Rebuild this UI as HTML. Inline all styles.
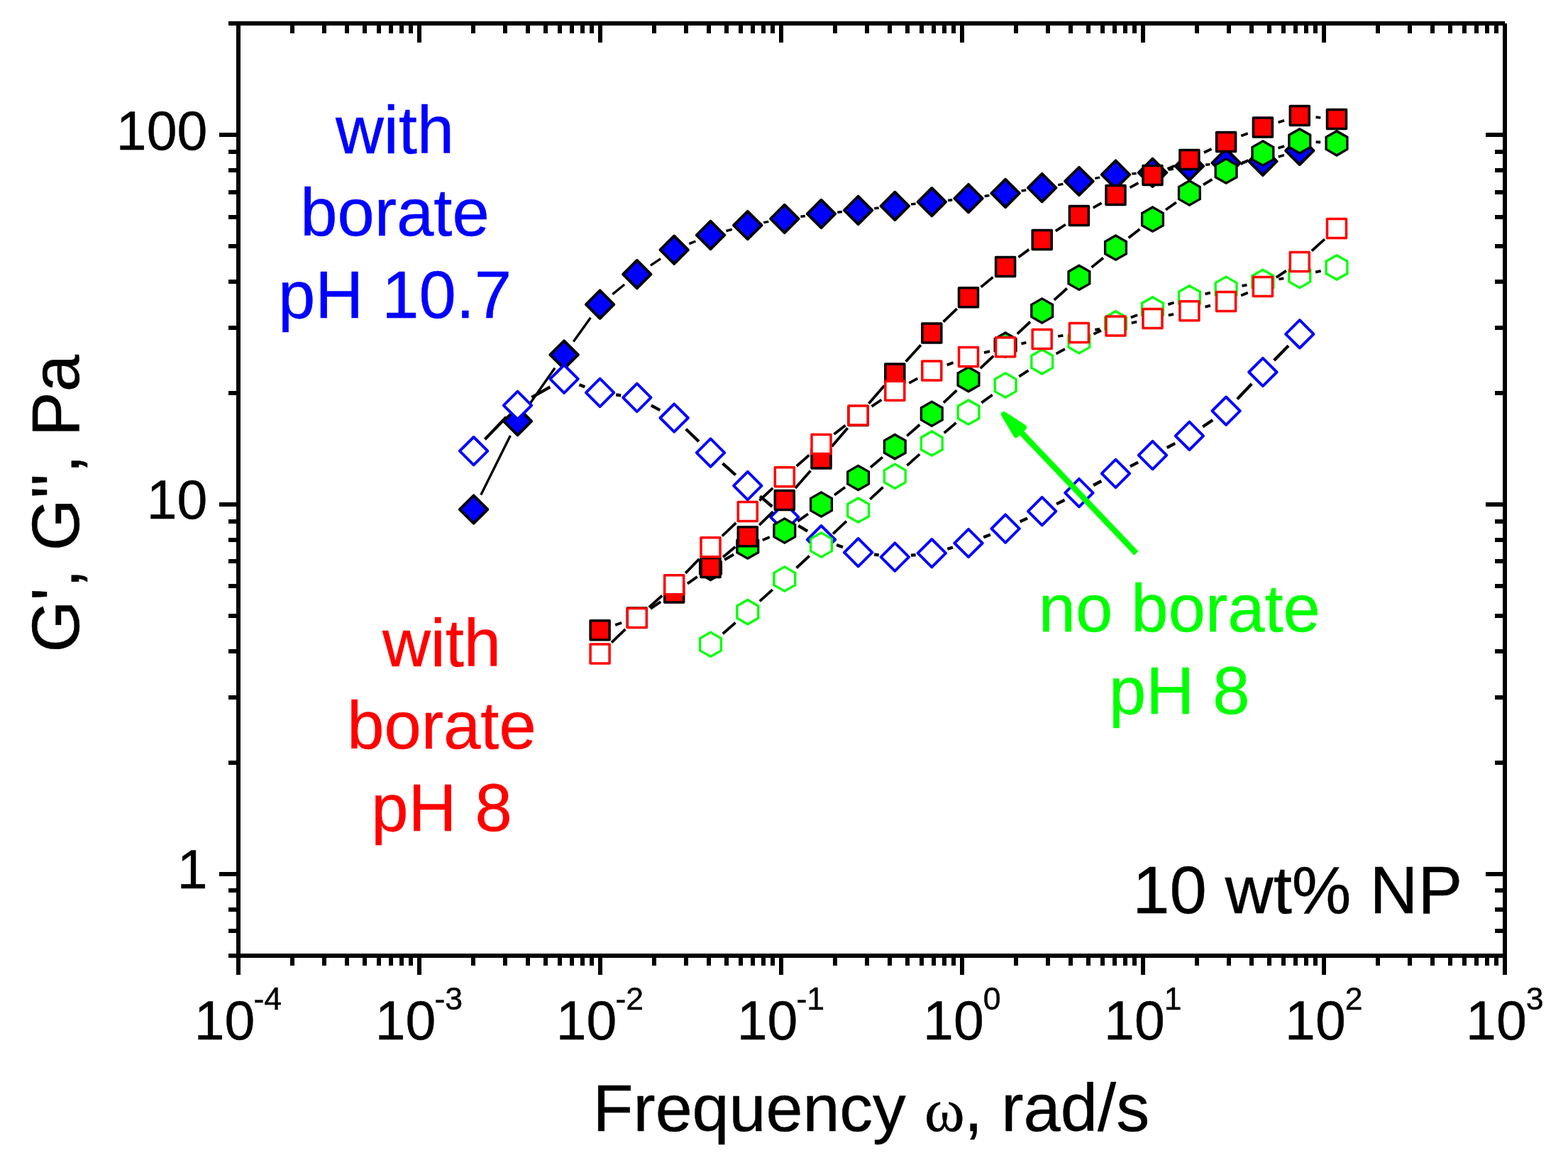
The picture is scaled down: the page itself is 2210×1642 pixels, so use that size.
<!DOCTYPE html>
<html lang="en"><head><meta charset="utf-8"><title>G', G'' vs frequency</title>
<style>html,body{margin:0;padding:0;background:#fff;}body{width:2210px;height:1642px;overflow:hidden;}svg{display:block;}text{font-family:"Liberation Sans",Arial,Helvetica,sans-serif;stroke-width:0.45px;stroke-linejoin:round;}.sym{font-family:"Liberation Serif","DejaVu Serif",serif;}</style></head><body>
<svg width="2210" height="1642" viewBox="0 0 2210 1642">
<rect x="0" y="0" width="2210" height="1642" fill="#ffffff"/>
<g id="plot">
<g id="blue-g1">
<path d="M677.8 697.6L719.3 614.1M742.6 575L782 518.7M808.3 481.4L832.4 447.7M863.3 414.7L880.1 401M916.9 374.1L931.1 364.7M971.3 343.6L980.4 340M1023.5 325.5L1031.8 323.4M1076.3 313.6L1083.3 312.3M1128.4 305.3L1134.9 304.5M1180.2 299.2L1186.9 298.5M1232.3 293.7L1238.6 293M1284 287.9L1290.6 287.2M1336 282.5L1342.3 281.8M1387.6 276.5L1394.5 275.5M1439.6 269L1446.2 268M1491.2 260.7L1498.4 259.4M1543.3 251.4L1550.1 250.2M1595.3 244.9L1601.7 244.5M1647 239.4L1653.9 238.1M1699.1 232.2L1705.4 231.6M1750.9 228.6L1757.1 228.3M1801.8 221L1809.9 218.6" fill="none" stroke="#000" stroke-width="3.4" stroke-linecap="butt"/>
<g fill="#0000ff" stroke="#000" stroke-width="3.9" stroke-linejoin="round">
<path d="M667.6 698.3L687.3 718L667.6 737.7L647.9 718Z"/>
<path d="M729.5 574L749.2 593.7L729.5 613.4L709.8 593.7Z"/>
<path d="M795.1 480.3L814.8 500L795.1 519.7L775.4 500Z"/>
<path d="M845.6 409.4L865.3 429.1L845.6 448.8L825.9 429.1Z"/>
<path d="M897.8 366.9L917.5 386.6L897.8 406.3L878.1 386.6Z"/>
<path d="M950.2 332.5L969.9 352.2L950.2 371.9L930.5 352.2Z"/>
<path d="M1001.5 311.7L1021.2 331.4L1001.5 351.1L981.8 331.4Z"/>
<path d="M1053.8 297.8L1073.5 317.5L1053.8 337.2L1034.1 317.5Z"/>
<path d="M1105.8 288.7L1125.5 308.4L1105.8 328.1L1086.1 308.4Z"/>
<path d="M1157.5 281.7L1177.2 301.4L1157.5 321.1L1137.8 301.4Z"/>
<path d="M1209.6 276.6L1229.3 296.3L1209.6 316L1189.9 296.3Z"/>
<path d="M1261.3 270.7L1281 290.4L1261.3 310.1L1241.6 290.4Z"/>
<path d="M1313.3 265L1333 284.7L1313.3 304.4L1293.6 284.7Z"/>
<path d="M1365 259.9L1384.7 279.6L1365 299.3L1345.3 279.6Z"/>
<path d="M1417.1 252.7L1436.8 272.4L1417.1 292.1L1397.4 272.4Z"/>
<path d="M1468.7 244.9L1488.4 264.6L1468.7 284.3L1449 264.6Z"/>
<path d="M1520.9 235.8L1540.6 255.5L1520.9 275.2L1501.2 255.5Z"/>
<path d="M1572.5 226.4L1592.2 246.1L1572.5 265.8L1552.8 246.1Z"/>
<path d="M1624.5 223.6L1644.2 243.3L1624.5 263L1604.8 243.3Z"/>
<path d="M1676.4 214.5L1696.1 234.2L1676.4 253.9L1656.7 234.2Z"/>
<path d="M1728.1 209.9L1747.8 229.6L1728.1 249.3L1708.4 229.6Z"/>
<path d="M1779.9 207.6L1799.6 227.3L1779.9 247L1760.2 227.3Z"/>
<path d="M1831.8 192.6L1851.5 212.3L1831.8 232L1812.1 212.3Z"/>
</g></g>
<g id="blue-g2">
<path d="M683.4 619.3L713.7 587.7M749.3 560.1L775.3 545.4M816.4 542.3L824.3 545.3M868.2 556.4L875.2 557.4M917.8 571.3L930.2 578.1M966.7 604.8L985 622.3M1018.5 653.2L1036.8 669.5M1071.2 699.4L1088.4 714M1125.2 740.8L1138.1 748.7M1179.1 768.1L1188 771.3M1232.2 781.5L1238.7 782.3M1284 782.7L1290.6 782.1M1335.3 773.7L1343 771.5M1386.2 757.2L1395.9 753.4M1437.7 735.3L1448.1 730.4M1489.1 710.4L1500.5 704.8M1541.1 684L1552.3 678M1592.9 657.3L1604.1 651.7M1644.7 631L1656.2 624.9M1695.3 601.5L1709.2 592M1743.8 562.6L1764.2 541.1M1795.7 508.1L1816 487.2" fill="none" stroke="#000" stroke-width="4.3" stroke-linecap="butt"/>
<g fill="#ffffff" stroke="#0000ff" stroke-width="3.9" stroke-linejoin="round">
<path d="M667.6 616L687.3 635.7L667.6 655.4L647.9 635.7Z"/>
<path d="M729.5 551.6L749.2 571.3L729.5 591L709.8 571.3Z"/>
<path d="M795.1 514.5L814.8 534.2L795.1 553.9L775.4 534.2Z"/>
<path d="M845.6 533.7L865.3 553.4L845.6 573.1L825.9 553.4Z"/>
<path d="M897.8 540.7L917.5 560.4L897.8 580.1L878.1 560.4Z"/>
<path d="M950.2 569.3L969.9 589L950.2 608.7L930.5 589Z"/>
<path d="M1001.5 618.4L1021.2 638.1L1001.5 657.8L981.8 638.1Z"/>
<path d="M1053.8 664.9L1073.5 684.6L1053.8 704.3L1034.1 684.6Z"/>
<path d="M1105.8 709.1L1125.5 728.8L1105.8 748.5L1086.1 728.8Z"/>
<path d="M1157.5 741L1177.2 760.7L1157.5 780.4L1137.8 760.7Z"/>
<path d="M1209.6 759L1229.3 778.7L1209.6 798.4L1189.9 778.7Z"/>
<path d="M1261.3 765.4L1281 785.1L1261.3 804.8L1241.6 785.1Z"/>
<path d="M1313.3 760L1333 779.7L1313.3 799.4L1293.6 779.7Z"/>
<path d="M1365 745.8L1384.7 765.5L1365 785.2L1345.3 765.5Z"/>
<path d="M1417.1 725.4L1436.8 745.1L1417.1 764.8L1397.4 745.1Z"/>
<path d="M1468.7 700.9L1488.4 720.6L1468.7 740.3L1449 720.6Z"/>
<path d="M1520.9 674.9L1540.6 694.6L1520.9 714.3L1501.2 694.6Z"/>
<path d="M1572.5 647.7L1592.2 667.4L1572.5 687.1L1552.8 667.4Z"/>
<path d="M1624.5 621.9L1644.2 641.6L1624.5 661.3L1604.8 641.6Z"/>
<path d="M1676.4 594.6L1696.1 614.3L1676.4 634L1656.7 614.3Z"/>
<path d="M1728.1 559.5L1747.8 579.2L1728.1 598.9L1708.4 579.2Z"/>
<path d="M1779.9 504.8L1799.6 524.5L1779.9 544.2L1760.2 524.5Z"/>
<path d="M1831.8 451.1L1851.5 470.8L1831.8 490.5L1812.1 470.8Z"/>
</g></g>
<g id="green-g1">
<path d="M1021.2 789L1034.1 781.5M1074.8 761.2L1084.8 756.9M1124.3 734.7L1139 724.3M1176 697.7L1191.1 686.8M1227 658.7L1243.9 644.4M1278.3 614.4L1296.3 598.5M1329.9 567.7L1348.4 550.2M1381.7 519.1L1400.4 501.6M1433.8 470.6L1452 453.5M1485.7 422.8L1503.9 406.5M1538.5 376.9L1554.9 363.5M1590.6 335.2L1606.4 323M1643 295.8L1657.9 285.3M1696 260.3L1708.5 252.8M1748.6 231.2L1759.4 225.9M1801.5 208.8L1810.2 206M1854.6 200.1L1861.2 200.5" fill="none" stroke="#000" stroke-width="3.8" stroke-linecap="butt"/>
<g fill="#00ff00" stroke="#000" stroke-width="3.3" stroke-linejoin="miter">
<path d="M1001.5 783.2L1016.4 791.8L1016.4 809L1001.5 817.5L986.6 809L986.6 791.8Z"/>
<path d="M1053.8 753L1068.7 761.5L1068.7 778.7L1053.8 787.2L1038.9 778.7L1038.9 761.5Z"/>
<path d="M1105.8 730.9L1120.7 739.4L1120.7 756.6L1105.8 765.1L1090.9 756.6L1090.9 739.4Z"/>
<path d="M1157.5 693.9L1172.4 702.4L1172.4 719.6L1157.5 728.1L1142.6 719.6L1142.6 702.4Z"/>
<path d="M1209.6 656.4L1224.5 664.9L1224.5 682.1L1209.6 690.6L1194.7 682.1L1194.7 664.9Z"/>
<path d="M1261.3 612.5L1276.2 621L1276.2 638.2L1261.3 646.8L1246.4 638.2L1246.4 621Z"/>
<path d="M1313.3 566.1L1328.2 574.7L1328.2 591.9L1313.3 600.4L1298.4 591.9L1298.4 574.7Z"/>
<path d="M1365 517.5L1379.9 526L1379.9 543.2L1365 551.8L1350.1 543.2L1350.1 526Z"/>
<path d="M1417.1 469L1432 477.5L1432 494.7L1417.1 503.2L1402.2 494.7L1402.2 477.5Z"/>
<path d="M1468.7 420.9L1483.6 429.4L1483.6 446.6L1468.7 455.1L1453.8 446.6L1453.8 429.4Z"/>
<path d="M1520.9 374.2L1535.8 382.7L1535.8 399.9L1520.9 408.4L1506 399.9L1506 382.7Z"/>
<path d="M1572.5 332L1587.4 340.5L1587.4 357.7L1572.5 366.2L1557.6 357.7L1557.6 340.5Z"/>
<path d="M1624.5 292L1639.4 300.5L1639.4 317.7L1624.5 326.2L1609.6 317.7L1609.6 300.5Z"/>
<path d="M1676.4 254.8L1691.3 263.4L1691.3 280.6L1676.4 289.1L1661.5 280.6L1661.5 263.4Z"/>
<path d="M1728.1 223.9L1743 232.5L1743 249.7L1728.1 258.2L1713.2 249.7L1713.2 232.5Z"/>
<path d="M1779.9 198.8L1794.8 207.4L1794.8 224.6L1779.9 233.2L1765 224.6L1765 207.4Z"/>
<path d="M1831.8 181.7L1846.7 190.2L1846.7 207.4L1831.8 216L1816.9 207.4L1816.9 190.2Z"/>
<path d="M1884 184.7L1898.9 193.2L1898.9 210.4L1884 219L1869.1 210.4L1869.1 193.2Z"/>
</g></g>
<g id="green-g2">
<path d="M1018.7 893.3L1036.6 877.6M1070.8 847.4L1088.8 831.2M1122.5 800.5L1140.8 783.5M1174.1 752.4L1193 734.7M1226.3 703.6L1244.6 686.7M1278.4 656.1L1296.2 640.2M1330.7 610.3L1347.6 595.9M1383.4 567.6L1398.7 556.5M1436.3 530.7L1449.5 522.1M1488.6 498.7L1501 491.9M1541.4 470.9L1552 465.7M1593.8 447.6L1603.2 444M1646.3 429.1L1654.6 426.5M1698.6 414.4L1705.9 412.6M1750.5 402.9L1757.5 401.6M1802.4 393.5L1809.3 392.3M1854.1 383.6L1861.7 381.8" fill="none" stroke="#000" stroke-width="3.8" stroke-linecap="butt"/>
<g fill="#ffffff" stroke="#00ff00" stroke-width="3.3" stroke-linejoin="miter">
<path d="M1001.5 891.1L1016.4 899.7L1016.4 916.9L1001.5 925.4L986.6 916.9L986.6 899.7Z"/>
<path d="M1053.8 845.5L1068.7 854L1068.7 871.2L1053.8 879.8L1038.9 871.2L1038.9 854Z"/>
<path d="M1105.8 798.9L1120.7 807.4L1120.7 824.6L1105.8 833.1L1090.9 824.6L1090.9 807.4Z"/>
<path d="M1157.5 750.9L1172.4 759.4L1172.4 776.6L1157.5 785.1L1142.6 776.6L1142.6 759.4Z"/>
<path d="M1209.6 702L1224.5 710.5L1224.5 727.7L1209.6 736.2L1194.7 727.7L1194.7 710.5Z"/>
<path d="M1261.3 654.1L1276.2 662.6L1276.2 679.8L1261.3 688.4L1246.4 679.8L1246.4 662.6Z"/>
<path d="M1313.3 608L1328.2 616.5L1328.2 633.7L1313.3 642.2L1298.4 633.7L1298.4 616.5Z"/>
<path d="M1365 564L1379.9 572.5L1379.9 589.7L1365 598.2L1350.1 589.7L1350.1 572.5Z"/>
<path d="M1417.1 525.9L1432 534.4L1432 551.6L1417.1 560.1L1402.2 551.6L1402.2 534.4Z"/>
<path d="M1468.7 492.7L1483.6 501.2L1483.6 518.4L1468.7 527L1453.8 518.4L1453.8 501.2Z"/>
<path d="M1520.9 463.7L1535.8 472.2L1535.8 489.4L1520.9 497.9L1506 489.4L1506 472.2Z"/>
<path d="M1572.5 438.7L1587.4 447.2L1587.4 464.4L1572.5 472.9L1557.6 464.4L1557.6 447.2Z"/>
<path d="M1624.5 418.7L1639.4 427.2L1639.4 444.4L1624.5 452.9L1609.6 444.4L1609.6 427.2Z"/>
<path d="M1676.4 402.7L1691.3 411.2L1691.3 428.4L1676.4 436.9L1661.5 428.4L1661.5 411.2Z"/>
<path d="M1728.1 390.1L1743 398.6L1743 415.8L1728.1 424.3L1713.2 415.8L1713.2 398.6Z"/>
<path d="M1779.9 380.2L1794.8 388.7L1794.8 405.9L1779.9 414.4L1765 405.9L1765 388.7Z"/>
<path d="M1831.8 371.4L1846.7 379.9L1846.7 397.1L1831.8 405.6L1816.9 397.1L1816.9 379.9Z"/>
<path d="M1884 359.8L1898.9 368.3L1898.9 385.5L1884 394L1869.1 385.5L1869.1 368.3Z"/>
</g></g>
<g id="red-g1">
<path d="M867.2 880.9L876.2 877.8M916.8 857.9L931.2 848.2M968.9 822.6L982.8 812.9M1019 785.3L1036.3 770.8M1070.1 740.2L1089.5 721.1M1120.9 688L1142.4 663.6M1172.4 629.2L1194.7 603.3M1224.5 568.8L1246.4 543.6M1276.7 509.6L1297.9 486.3M1329.6 453.6L1348.7 435.1M1382.6 404.6L1399.5 390.6M1435.5 362.5L1450.3 351.6M1487.8 325.6L1501.8 316.5M1540.8 292.9L1552.6 286.2M1592.6 264.3L1604.4 257.8M1645.5 238.1L1655.4 233.8M1697 215L1707.5 210M1749.3 191.6L1758.7 187.9M1801.6 172.5L1810.1 169.8M1854.5 165.1L1861.3 165.8" fill="none" stroke="#000" stroke-width="3.8" stroke-linecap="butt"/>
<g fill="#ff0000" stroke="#000" stroke-width="3.5" stroke-linejoin="round">
<path d="M832.1 874.7h27v27h-27Z"/>
<path d="M884.3 857h27v27h-27Z"/>
<path d="M936.7 822.1h27v27h-27Z"/>
<path d="M988 786.4h27v27h-27Z"/>
<path d="M1040.3 742.7h27v27h-27Z"/>
<path d="M1092.3 691.6h27v27h-27Z"/>
<path d="M1144 633h27v27h-27Z"/>
<path d="M1196.1 572.5h27v27h-27Z"/>
<path d="M1247.8 512.9h27v27h-27Z"/>
<path d="M1299.8 456h27v27h-27Z"/>
<path d="M1351.5 405.7h27v27h-27Z"/>
<path d="M1403.6 362.5h27v27h-27Z"/>
<path d="M1455.2 324.6h27v27h-27Z"/>
<path d="M1507.4 290.5h27v27h-27Z"/>
<path d="M1559 261.6h27v27h-27Z"/>
<path d="M1611 233.5h27v27h-27Z"/>
<path d="M1662.9 211.4h27v27h-27Z"/>
<path d="M1714.6 186.6h27v27h-27Z"/>
<path d="M1766.4 165.9h27v27h-27Z"/>
<path d="M1818.3 149.4h27v27h-27Z"/>
<path d="M1870.5 154.5h27v27h-27Z"/>
</g></g>
<g id="red-g2">
<path d="M862 905.6L881.4 886.9M914.8 855.9L933.2 839.5M966.1 807.9L985.6 787.7M1017.9 755.5L1037.4 736.9M1070.4 705.5L1089.2 687.8M1122.8 657L1140.5 641.3M1175.5 612.1L1191.6 599.6M1228.5 572.8L1242.4 563.5M1281.3 539.8L1293.3 533.3M1334.7 514.4L1343.6 511.1M1387 497.2L1395.1 495.1M1439.4 484.3L1446.4 482.8M1491.2 474L1498.4 472.8M1543.3 464.9L1550.1 463.6M1594.8 455.1L1602.2 453.6M1646.8 444.4L1654.1 442.9M1698.5 432.6L1706 430.6M1749.2 416.4L1758.8 412.6M1798.8 391.2L1812.9 381.7M1848.8 353.7L1867 337.2" fill="none" stroke="#000" stroke-width="3.8" stroke-linecap="butt"/>
<g fill="#ffffff" stroke="#ff0000" stroke-width="3.5" stroke-linejoin="round">
<path d="M832.1 907.9h27v27h-27Z"/>
<path d="M884.3 857.6h27v27h-27Z"/>
<path d="M936.7 810.8h27v27h-27Z"/>
<path d="M988 757.8h27v27h-27Z"/>
<path d="M1040.3 707.6h27v27h-27Z"/>
<path d="M1092.3 658.7h27v27h-27Z"/>
<path d="M1144 612.6h27v27h-27Z"/>
<path d="M1196.1 572.1h27v27h-27Z"/>
<path d="M1247.8 537.2h27v27h-27Z"/>
<path d="M1299.8 508.9h27v27h-27Z"/>
<path d="M1351.5 489.6h27v27h-27Z"/>
<path d="M1403.6 475.7h27v27h-27Z"/>
<path d="M1455.2 464.4h27v27h-27Z"/>
<path d="M1507.4 455.4h27v27h-27Z"/>
<path d="M1559 446.1h27v27h-27Z"/>
<path d="M1611 435.6h27v27h-27Z"/>
<path d="M1662.9 424.7h27v27h-27Z"/>
<path d="M1714.6 411.5h27v27h-27Z"/>
<path d="M1766.4 390.5h27v27h-27Z"/>
<path d="M1818.3 355.4h27v27h-27Z"/>
<path d="M1870.5 308.5h27v27h-27Z"/>
</g></g>
<g id="arrow" fill="#00ff00" stroke="#00ff00">
<line x1="1437.5" y1="607.6" x2="1601.4" y2="779.8" stroke-width="8.3" stroke-linecap="butt"/>
<polygon points="1414.9,584 1443.1,602.4 1432,612.9" stroke-width="8" stroke-linejoin="round"/>
</g>
</g>
<g id="axes" fill="#000" shape-rendering="crispEdges">
<rect x="322" y="30" width="1799" height="6"/>
<rect x="322" y="1344" width="1802" height="6"/>
<rect x="333" y="30" width="6" height="1344"/>
<rect x="2118" y="33" width="6" height="1341"/>
<rect x="409" y="36" width="6" height="11"/>
<rect x="409" y="1350" width="6" height="11"/>
<rect x="454" y="36" width="6" height="11"/>
<rect x="454" y="1350" width="6" height="11"/>
<rect x="486" y="36" width="6" height="11"/>
<rect x="486" y="1350" width="6" height="11"/>
<rect x="511" y="36" width="6" height="11"/>
<rect x="511" y="1350" width="6" height="11"/>
<rect x="531" y="36" width="6" height="11"/>
<rect x="531" y="1350" width="6" height="11"/>
<rect x="548" y="36" width="6" height="11"/>
<rect x="548" y="1350" width="6" height="11"/>
<rect x="563" y="36" width="6" height="11"/>
<rect x="563" y="1350" width="6" height="11"/>
<rect x="576" y="36" width="6" height="11"/>
<rect x="576" y="1350" width="6" height="11"/>
<rect x="588" y="36" width="6" height="24"/>
<rect x="588" y="1350" width="6" height="24"/>
<rect x="664" y="36" width="6" height="11"/>
<rect x="664" y="1350" width="6" height="11"/>
<rect x="709" y="36" width="6" height="11"/>
<rect x="709" y="1350" width="6" height="11"/>
<rect x="741" y="36" width="6" height="11"/>
<rect x="741" y="1350" width="6" height="11"/>
<rect x="766" y="36" width="6" height="11"/>
<rect x="766" y="1350" width="6" height="11"/>
<rect x="786" y="36" width="6" height="11"/>
<rect x="786" y="1350" width="6" height="11"/>
<rect x="803" y="36" width="6" height="11"/>
<rect x="803" y="1350" width="6" height="11"/>
<rect x="818" y="36" width="6" height="11"/>
<rect x="818" y="1350" width="6" height="11"/>
<rect x="831" y="36" width="6" height="11"/>
<rect x="831" y="1350" width="6" height="11"/>
<rect x="843" y="36" width="6" height="24"/>
<rect x="843" y="1350" width="6" height="24"/>
<rect x="919" y="36" width="6" height="11"/>
<rect x="919" y="1350" width="6" height="11"/>
<rect x="964" y="36" width="6" height="11"/>
<rect x="964" y="1350" width="6" height="11"/>
<rect x="996" y="36" width="6" height="11"/>
<rect x="996" y="1350" width="6" height="11"/>
<rect x="1021" y="36" width="6" height="11"/>
<rect x="1021" y="1350" width="6" height="11"/>
<rect x="1041" y="36" width="6" height="11"/>
<rect x="1041" y="1350" width="6" height="11"/>
<rect x="1058" y="36" width="6" height="11"/>
<rect x="1058" y="1350" width="6" height="11"/>
<rect x="1073" y="36" width="6" height="11"/>
<rect x="1073" y="1350" width="6" height="11"/>
<rect x="1086" y="36" width="6" height="11"/>
<rect x="1086" y="1350" width="6" height="11"/>
<rect x="1098" y="36" width="6" height="24"/>
<rect x="1098" y="1350" width="6" height="24"/>
<rect x="1174" y="36" width="6" height="11"/>
<rect x="1174" y="1350" width="6" height="11"/>
<rect x="1219" y="36" width="6" height="11"/>
<rect x="1219" y="1350" width="6" height="11"/>
<rect x="1251" y="36" width="6" height="11"/>
<rect x="1251" y="1350" width="6" height="11"/>
<rect x="1276" y="36" width="6" height="11"/>
<rect x="1276" y="1350" width="6" height="11"/>
<rect x="1296" y="36" width="6" height="11"/>
<rect x="1296" y="1350" width="6" height="11"/>
<rect x="1313" y="36" width="6" height="11"/>
<rect x="1313" y="1350" width="6" height="11"/>
<rect x="1328" y="36" width="6" height="11"/>
<rect x="1328" y="1350" width="6" height="11"/>
<rect x="1341" y="36" width="6" height="11"/>
<rect x="1341" y="1350" width="6" height="11"/>
<rect x="1353" y="36" width="6" height="24"/>
<rect x="1353" y="1350" width="6" height="24"/>
<rect x="1429" y="36" width="6" height="11"/>
<rect x="1429" y="1350" width="6" height="11"/>
<rect x="1474" y="36" width="6" height="11"/>
<rect x="1474" y="1350" width="6" height="11"/>
<rect x="1506" y="36" width="6" height="11"/>
<rect x="1506" y="1350" width="6" height="11"/>
<rect x="1531" y="36" width="6" height="11"/>
<rect x="1531" y="1350" width="6" height="11"/>
<rect x="1551" y="36" width="6" height="11"/>
<rect x="1551" y="1350" width="6" height="11"/>
<rect x="1568" y="36" width="6" height="11"/>
<rect x="1568" y="1350" width="6" height="11"/>
<rect x="1583" y="36" width="6" height="11"/>
<rect x="1583" y="1350" width="6" height="11"/>
<rect x="1596" y="36" width="6" height="11"/>
<rect x="1596" y="1350" width="6" height="11"/>
<rect x="1608" y="36" width="6" height="24"/>
<rect x="1608" y="1350" width="6" height="24"/>
<rect x="1684" y="36" width="6" height="11"/>
<rect x="1684" y="1350" width="6" height="11"/>
<rect x="1729" y="36" width="6" height="11"/>
<rect x="1729" y="1350" width="6" height="11"/>
<rect x="1761" y="36" width="6" height="11"/>
<rect x="1761" y="1350" width="6" height="11"/>
<rect x="1786" y="36" width="6" height="11"/>
<rect x="1786" y="1350" width="6" height="11"/>
<rect x="1806" y="36" width="6" height="11"/>
<rect x="1806" y="1350" width="6" height="11"/>
<rect x="1823" y="36" width="6" height="11"/>
<rect x="1823" y="1350" width="6" height="11"/>
<rect x="1838" y="36" width="6" height="11"/>
<rect x="1838" y="1350" width="6" height="11"/>
<rect x="1851" y="36" width="6" height="11"/>
<rect x="1851" y="1350" width="6" height="11"/>
<rect x="1863" y="36" width="6" height="24"/>
<rect x="1863" y="1350" width="6" height="24"/>
<rect x="1939" y="36" width="6" height="11"/>
<rect x="1939" y="1350" width="6" height="11"/>
<rect x="1984" y="36" width="6" height="11"/>
<rect x="1984" y="1350" width="6" height="11"/>
<rect x="2016" y="36" width="6" height="11"/>
<rect x="2016" y="1350" width="6" height="11"/>
<rect x="2041" y="36" width="6" height="11"/>
<rect x="2041" y="1350" width="6" height="11"/>
<rect x="2061" y="36" width="6" height="11"/>
<rect x="2061" y="1350" width="6" height="11"/>
<rect x="2078" y="36" width="6" height="11"/>
<rect x="2078" y="1350" width="6" height="11"/>
<rect x="2093" y="36" width="6" height="11"/>
<rect x="2093" y="1350" width="6" height="11"/>
<rect x="2106" y="36" width="6" height="11"/>
<rect x="2106" y="1350" width="6" height="11"/>
<rect x="2118" y="36" width="6" height="24"/>
<rect x="2118" y="1350" width="6" height="24"/>
<rect x="322" y="1309" width="11" height="6.4"/>
<rect x="2107" y="1309" width="11" height="6.4"/>
<rect x="322" y="1279" width="11" height="6.4"/>
<rect x="2107" y="1279" width="11" height="6.4"/>
<rect x="322" y="1252" width="11" height="6.4"/>
<rect x="2107" y="1252" width="11" height="6.4"/>
<rect x="309" y="1229" width="24" height="6.4"/>
<rect x="2094" y="1229" width="24" height="6.4"/>
<rect x="322" y="1072" width="11" height="6.4"/>
<rect x="2107" y="1072" width="11" height="6.4"/>
<rect x="322" y="980" width="11" height="6.4"/>
<rect x="2107" y="980" width="11" height="6.4"/>
<rect x="322" y="915" width="11" height="6.4"/>
<rect x="2107" y="915" width="11" height="6.4"/>
<rect x="322" y="865" width="11" height="6.4"/>
<rect x="2107" y="865" width="11" height="6.4"/>
<rect x="322" y="823" width="11" height="6.4"/>
<rect x="2107" y="823" width="11" height="6.4"/>
<rect x="322" y="788" width="11" height="6.4"/>
<rect x="2107" y="788" width="11" height="6.4"/>
<rect x="322" y="758" width="11" height="6.4"/>
<rect x="2107" y="758" width="11" height="6.4"/>
<rect x="322" y="732" width="11" height="6.4"/>
<rect x="2107" y="732" width="11" height="6.4"/>
<rect x="309" y="708" width="24" height="6.4"/>
<rect x="2094" y="708" width="24" height="6.4"/>
<rect x="322" y="551" width="11" height="6.4"/>
<rect x="2107" y="551" width="11" height="6.4"/>
<rect x="322" y="459" width="11" height="6.4"/>
<rect x="2107" y="459" width="11" height="6.4"/>
<rect x="322" y="394" width="11" height="6.4"/>
<rect x="2107" y="394" width="11" height="6.4"/>
<rect x="322" y="344" width="11" height="6.4"/>
<rect x="2107" y="344" width="11" height="6.4"/>
<rect x="322" y="303" width="11" height="6.4"/>
<rect x="2107" y="303" width="11" height="6.4"/>
<rect x="322" y="268" width="11" height="6.4"/>
<rect x="2107" y="268" width="11" height="6.4"/>
<rect x="322" y="237" width="11" height="6.4"/>
<rect x="2107" y="237" width="11" height="6.4"/>
<rect x="322" y="211" width="11" height="6.4"/>
<rect x="2107" y="211" width="11" height="6.4"/>
<rect x="309" y="187" width="24" height="6.4"/>
<rect x="2094" y="187" width="24" height="6.4"/>
</g>
<g id="labels" fill="#000" stroke="#000">
<text x="292.3" y="211" font-size="77" text-anchor="end">100</text>
<text x="292.3" y="731" font-size="77" text-anchor="end">10</text>
<text x="292.6" y="1252" font-size="77" text-anchor="end">1</text>
<text x="273.7" y="1465.2" font-size="77">10<tspan font-size="44.6" dx="-1.9" dy="-42.2">-4</tspan></text>
<text x="528.7" y="1465.2" font-size="77">10<tspan font-size="44.6" dx="-1.9" dy="-42.2">-3</tspan></text>
<text x="783.7" y="1465.2" font-size="77">10<tspan font-size="44.6" dx="-1.9" dy="-42.2">-2</tspan></text>
<text x="1038.7" y="1465.2" font-size="77">10<tspan font-size="44.6" dx="-1.9" dy="-42.2">-1</tspan></text>
<text x="1301.1" y="1465.2" font-size="77">10<tspan font-size="44.6" dx="-0.9" dy="-42.2">0</tspan></text>
<text x="1556.1" y="1465.2" font-size="77">10<tspan font-size="44.6" dx="-0.9" dy="-42.2">1</tspan></text>
<text x="1811.1" y="1465.2" font-size="77">10<tspan font-size="44.6" dx="-0.9" dy="-42.2">2</tspan></text>
<text x="2066.1" y="1465.2" font-size="77">10<tspan font-size="44.6" dx="-0.9" dy="-42.2">3</tspan></text>
<text x="835.5" y="1594.4" font-size="93.4">Frequency <tspan class="sym" x="1303" font-size="86">ω</tspan><tspan x="1359" font-size="94">, rad/s</tspan></text>
<text transform="translate(111 919.5) rotate(-90)" font-size="94">G', G'', Pa</text>
</g>
<g fill="#0000ff" stroke="#0000ff" font-size="94" text-anchor="middle">
<text x="556.5" y="216.1">with</text>
<text x="556.5" y="331.9">borate</text>
<text x="556.5" y="447.6">pH 10.7</text>
</g>
<g fill="#ff0000" stroke="#ff0000" font-size="94" text-anchor="middle">
<text x="622.5" y="938.9">with</text>
<text x="622.5" y="1054.8">borate</text>
<text x="622.5" y="1170.7">pH 8</text>
</g>
<g fill="#00ff00" stroke="#00ff00" font-size="94" text-anchor="middle">
<text x="1662.3" y="889.9">no borate</text>
<text x="1662.3" y="1006.1">pH 8</text>
</g>
<text x="1596.2" y="1286.9" font-size="94" fill="#000" stroke="#000">10 wt% NP</text>
</svg></body></html>
